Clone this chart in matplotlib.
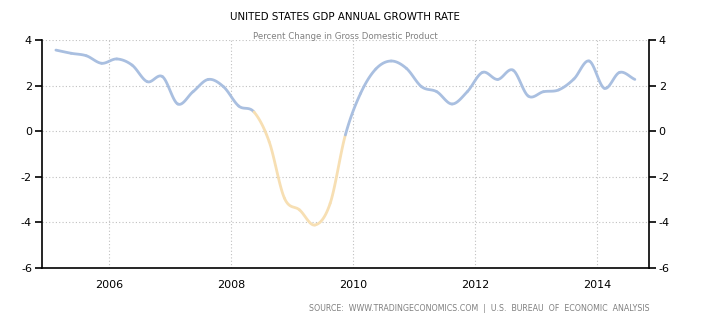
import numpy as np
import matplotlib as mpl
mpl.use("Agg")
import matplotlib.pyplot as plt

plt.rcParams["axes.unicode_minus"] = False

# quarterly GDP growth, year over year (%), 2005Q1 .. 2014Q3
quarters = ["2005Q1", "2005Q2", "2005Q3", "2005Q4",
            "2006Q1", "2006Q2", "2006Q3", "2006Q4",
            "2007Q1", "2007Q2", "2007Q3", "2007Q4",
            "2008Q1", "2008Q2", "2008Q3", "2008Q4",
            "2009Q1", "2009Q2", "2009Q3", "2009Q4",
            "2010Q1", "2010Q2", "2010Q3", "2010Q4",
            "2011Q1", "2011Q2", "2011Q3", "2011Q4",
            "2012Q1", "2012Q2", "2012Q3", "2012Q4",
            "2013Q1", "2013Q2", "2013Q3", "2013Q4",
            "2014Q1", "2014Q2", "2014Q3"]
growth = [3.57, 3.43, 3.32, 2.99,
          3.18, 2.91, 2.18, 2.40,
          1.20, 1.74, 2.28, 1.96,
          1.11, 0.85, -0.46, -2.94,
          -3.46, -4.12, -3.17, -0.16,
          1.67, 2.74, 3.09, 2.77,
          1.96, 1.74, 1.20, 1.74,
          2.59, 2.28, 2.69, 1.55,
          1.74, 1.82, 2.30, 3.09,
          1.89, 2.59, 2.28]
year_ticks = [2006, 2008, 2010, 2012, 2014]
value_ticks = [-6, -4, -2, 0, 2, 4]

BLUE = "#a9bfe0"
ORANGE = "#f7dfb3"


def qpos(q):
    y, n = q.split("Q")
    return int(y) + (int(n) - 1) * 0.25 + 0.125


def catmull(x, y, steps=20):
    # smooth curve through every point, one piece per segment
    xp = np.concatenate([[2 * x[0] - x[1]], x, [2 * x[-1] - x[-2]]])
    yp = np.concatenate([[2 * y[0] - y[1]], y, [2 * y[-1] - y[-2]]])
    segs = []
    t = np.linspace(0, 1, steps)
    for i in range(1, len(xp) - 2):
        p0, p1, p2, p3 = [np.array([xp[j], yp[j]]) for j in range(i - 1, i + 3)]
        pts = 0.5 * ((2 * p1)[:, None] + (-p0 + p2)[:, None] * t
                     + (2 * p0 - 5 * p1 + 4 * p2 - p3)[:, None] * t ** 2
                     + (-p0 + 3 * p1 - 3 * p2 + p3)[:, None] * t ** 3)
        segs.append(pts)
    return segs


x = np.array([qpos(q) for q in quarters])
y = np.array(growth)

fig = plt.figure(figsize=(7.02, 3.32), dpi=100)
ax = fig.add_axes([0.0594, 0.1934, 0.8651, 0.6852])

for i, seg in enumerate(catmull(x, y)):
    # segments heading into a contraction are drawn in orange
    c = ORANGE if y[i + 1] < 0 else BLUE
    ax.plot(seg[0], seg[1], color=c, lw=2.0, solid_capstyle="round", zorder=3)

ax.set_xlim(2004.892, 2014.857)
ax.set_ylim(-6, 4)
ax.set_xticks(year_ticks)
ax.set_xticklabels([str(v) for v in year_ticks])
ax.set_yticks(value_ticks)

for v in year_ticks:
    ax.axvline(v, color="#c0c0c0", lw=0.8, ls=(0, (1, 2)), zorder=1)
for v in value_ticks[1:]:
    ax.axhline(v, color="#c0c0c0", lw=0.8, ls=(0, (1, 2)), zorder=1)

ax.spines["top"].set_visible(False)
for s in ["left", "right", "bottom"]:
    ax.spines[s].set_color("black")
    ax.spines[s].set_linewidth(1.2)

ax.tick_params(axis="x", length=0, pad=9, labelsize=8, colors="black")
ax.tick_params(axis="y", length=5, width=1.2, pad=2, labelsize=8,
               left=True, right=True, labelleft=True, labelright=True)

fig.text(0.492, 0.948, "UNITED STATES GDP ANNUAL GROWTH RATE", ha="center",
         va="center", fontsize=7.4, color="black", fontweight="medium")
fig.text(0.492, 0.889, "Percent Change in Gross Domestic Product", ha="center",
         va="center", fontsize=6.2, color="#808080")
fig.text(0.926, 0.072,
         "SOURCE:  WWW.TRADINGECONOMICS.COM  |  U.S.  BUREAU  OF  ECONOMIC  ANALYSIS",
         ha="right", va="center", fontsize=5.7, color="#808080")

fig.savefig("out.png", dpi=100)
